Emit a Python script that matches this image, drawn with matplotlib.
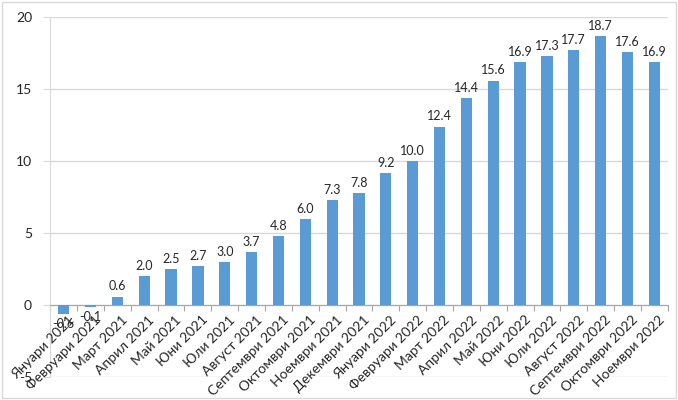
import matplotlib
matplotlib.use("Agg")
import matplotlib.pyplot as plt
import matplotlib.transforms as mtransforms

# data
months = ["Януари 2021", "Февруари 2021", "Март 2021", "Април 2021", "Май 2021",
          "Юни 2021", "Юли 2021", "Август 2021", "Септември 2021", "Октомври 2021",
          "Ноември 2021", "Декември 2021", "Януари 2022", "Февруари 2022", "Март 2022",
          "Април 2022", "Май 2022", "Юни 2022", "Юли 2022", "Август 2022",
          "Септември 2022", "Октомври 2022", "Ноември 2022"]
values = [-0.6, -0.1, 0.6, 2.0, 2.5, 2.7, 3.0, 3.7, 4.8, 6.0, 7.3, 7.8, 9.2,
          10.0, 12.4, 14.4, 15.6, 16.9, 17.3, 17.7, 18.7, 17.6, 16.9]
yticks = [-5, 0, 5, 10, 15, 20]

plt.rcParams['font.family'] = ['Lato', 'DejaVu Sans']
bar_color = '#5B9BD5'
grid_color = '#D9D9D9'
text_color = '#262626'

fig = plt.figure(figsize=(6.78, 4.0), dpi=100)
ax = fig.add_axes([0.074, 0.057, 0.911, 0.9])

x = list(range(len(months)))
ax.bar(x, values, width=0.42, color=bar_color, zorder=3)

# value labels
for xi, v in zip(x, values):
    if v >= 0:
        ax.annotate(f"{v:.1f}", (xi, v), xytext=(0, 3), textcoords='offset points',
                    ha='center', va='bottom', fontsize=9, color=text_color)
    else:
        ax.annotate(f"{v:.1f}", (xi, v), xytext=(0, -3), textcoords='offset points',
                    ha='center', va='top', fontsize=9, color=text_color)

ax.set_xlim(-0.5, len(months) - 0.5)
ax.set_ylim(yticks[0], yticks[-1])
ax.set_yticks(yticks)
ax.set_yticklabels([str(t) for t in yticks], fontsize=10, color=text_color)
ax.yaxis.grid(True, color=grid_color, linewidth=1, zorder=0)
ax.set_axisbelow(True)

# category axis crossing at zero, ticks between categories
ax.spines['bottom'].set_position(('data', 0))
ax.spines['bottom'].set_color('#A6A6A6')
ax.spines['left'].set_color(grid_color)
ax.spines['top'].set_visible(False)
ax.spines['right'].set_visible(False)
ax.set_xticks([i - 0.5 for i in range(len(months) + 1)])
ax.set_xticklabels([])
ax.tick_params(axis='x', length=4, color='#A6A6A6', direction='out')
ax.tick_params(axis='y', length=5, color=grid_color, pad=8)

# rotated month labels hanging under the zero line
offset = mtransforms.offset_copy(ax.transData, fig=fig, x=3, y=-6, units='points')
for xi, m in zip(x, months):
    ax.text(xi, 0, m, transform=offset, rotation=45, rotation_mode='anchor',
            ha='right', va='top', fontsize=10, color=text_color, zorder=4)

# thin frame around the whole chart
fig.patches.append(plt.Rectangle((0.003, 0.005), 0.994, 0.99, transform=fig.transFigure,
                                 fill=False, edgecolor='#D9D9D9', linewidth=1))

fig.savefig("out.png", dpi=100)
